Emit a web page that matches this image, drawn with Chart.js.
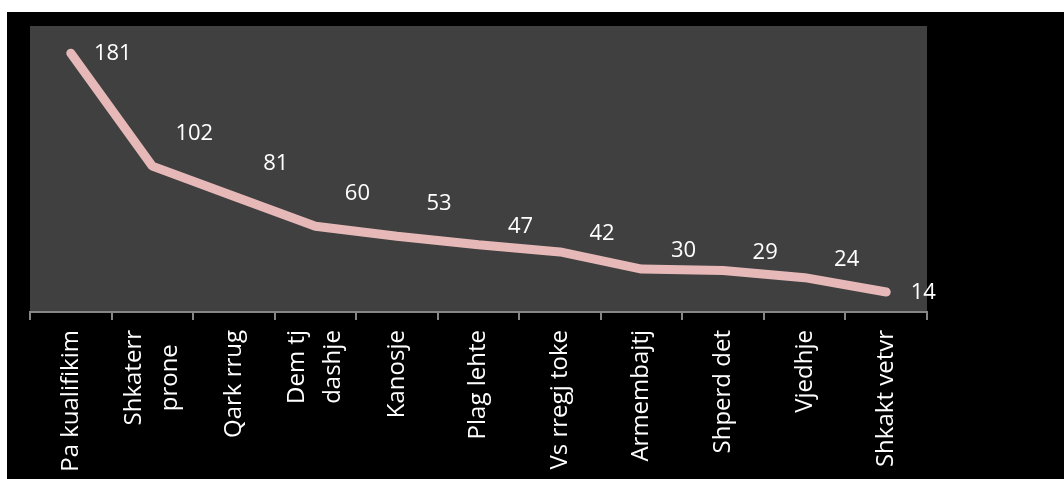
<!DOCTYPE html>
<html>
<head>
<meta charset="utf-8">
<script src="https://cdn.jsdelivr.net/npm/chart.js@4"></script>
<style>
  body { margin: 0; background: #fff; }
  canvas { display: block; }
</style>
</head>
<body>
<canvas id="chart" width="1064" height="479"></canvas>
<script>
const categories = [
  "Pa kualifikim", ["Shkaterr", "prone"], "Qark rrug", ["Dem tj", "dashje"], "Kanosje",
  "Plag lehte", "Vs rregj toke", "Armembajtj", "Shperd det", "Vjedhje", "Shkakt vetvr"
];
const counts = [181, 102, 81, 60, 53, 47, 42, 30, 29, 24, 14];

const FONT = "'Open Sans', sans-serif";

// black frame and grey plot area like the original
const background = {
  id: "background",
  beforeDraw(chart) {
    const { ctx, chartArea } = chart;
    ctx.save();
    ctx.fillStyle = "#ffffff";
    ctx.fillRect(0, 0, chart.width, chart.height);
    ctx.fillStyle = "#000000";
    ctx.fillRect(7, 12, chart.width - 7, chart.height - 12);
    ctx.fillStyle = "#404040";
    ctx.fillRect(chartArea.left, chartArea.top, chartArea.right - chartArea.left, chartArea.bottom - chartArea.top);
    ctx.restore();
  }
};

// rotated category labels, lines of a label centred on each other
const categoryLabels = {
  id: "categoryLabels",
  afterDraw(chart) {
    const { ctx, chartArea } = chart;
    const xs = chart.scales.x;
    const top = chartArea.bottom + 18;
    const gap = 36;
    ctx.save();
    ctx.fillStyle = "#ffffff";
    ctx.font = "24px " + FONT;
    ctx.textAlign = "center";
    ctx.textBaseline = "middle";
    chart.data.labels.forEach((lab, i) => {
      const lines = Array.isArray(lab) ? lab : [lab];
      const w = Math.max(...lines.map(l => ctx.measureText(l).width));
      const cx = xs.getPixelForTick(i);
      lines.forEach((line, j) => {
        const lx = cx + (j - (lines.length - 1) / 2) * gap;
        ctx.save();
        ctx.translate(lx, 0);
        ctx.rotate(-Math.PI / 2);
        ctx.fillText(line, -(top + w / 2), 0);
        ctx.restore();
      });
    });
    ctx.restore();
  }
};

// value labels to the right of the points
const valueLabels = {
  id: "valueLabels",
  afterDatasetsDraw(chart) {
    const { ctx } = chart;
    const meta = chart.getDatasetMeta(0);
    const data = chart.data.datasets[0].data;
    ctx.save();
    ctx.fillStyle = "#ffffff";
    ctx.font = "22px " + FONT;
    ctx.textAlign = "center";
    ctx.textBaseline = "middle";
    meta.data.forEach((pt, i) => {
      let dy;
      let dx = 42;
      if (i === 0) dy = 1;
      else if (i === data.length - 1) { dy = 1; dx = 37; }
      else if (data[i] >= 50) dy = -32;
      else dy = -18;
      ctx.fillText(String(data[i]), pt.x + dx, pt.y + dy);
    });
    ctx.restore();
  }
};

new Chart(document.getElementById("chart"), {
  type: "line",
  data: {
    labels: categories,
    datasets: [{
      data: counts,
      borderColor: "#e6b9b8",
      borderWidth: 9,
      borderCapStyle: "round",
      borderJoinStyle: "bevel",
      pointRadius: 0,
      pointHoverRadius: 0,
      tension: 0,
      fill: false
    }]
  },
  options: {
    responsive: false,
    devicePixelRatio: 1,
    animation: false,
    layout: { padding: { left: 30, right: 137, top: 26, bottom: 0 } },
    plugins: {
      legend: { display: false },
      tooltip: { enabled: false }
    },
    scales: {
      x: {
        offset: true,
        grid: {
          offset: true,
          drawOnChartArea: false,
          color: "#868686",
          lineWidth: 2,
          tickLength: 8
        },
        border: { color: "#868686", width: 2 },
        ticks: {
          autoSkip: false,
          minRotation: 90,
          maxRotation: 90,
          color: "rgba(0,0,0,0)",
          font: { family: FONT, size: 22 }
        },
        afterFit(scale) { scale.height = 167; }
      },
      y: {
        display: false,
        min: 0,
        max: 200
      }
    }
  },
  plugins: [background, categoryLabels, valueLabels]
});
</script>
</body>
</html>
